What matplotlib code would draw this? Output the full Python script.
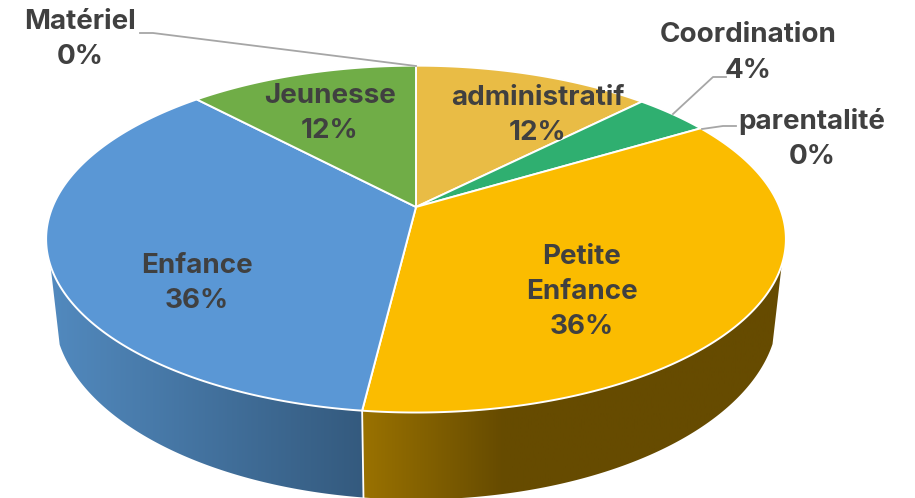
import numpy as np
import matplotlib
matplotlib.use("Agg")
import matplotlib.pyplot as plt
from matplotlib.patches import Polygon
from matplotlib.colors import LinearSegmentedColormap

# Data, clockwise from 12 o'clock
categories = ["administratif", "Coordination", "parentalité", "Petite Enfance",
              "Enfance", "Jeunesse", "Matériel"]
values = [12.4, 4.0, 0.0, 35.53, 36.07, 12.0, 0.0]
colors = ["#E9BC45", "#2FAF70", "#A5A5A5", "#FBBC00", "#5A97D5", "#70AD47", "#888888"]
label_text = ["administratif", "Coordination", "parentalité", "Petite\nEnfance",
              "Enfance", "Jeunesse", "Matériel"]
label_xy = [(538, 115.5), (748, 53), (812, 139), (582, 292), (197, 283.5), (330, 113.5), (80, 39.5)]
leaders = {
    "Matériel": [(140, 33), (153, 33), (416, 66)],
    "Coordination": [(726, 77), (713, 77), (673, 114)],
    "parentalité": [(736, 126), (723, 126), (702, 129)],
}

# Geometry of the perspective view of the disc
CX, CY = 416, 207
A, B, K = 363.5, 167.5, 0.185
SIDE_LIMIT = 265
SX = 0.975
LOW_CY, LOW_RX, LOW_RY = 311.5, 362, 188
TEXT = "#404040"
FONT = "Inter"


def rim(theta):
    X, Y = np.sin(theta), np.cos(theta)
    d = 1 + K * Y
    return CX + A * X / d, CY - B * Y / d


def lower(x):
    xb = CX + (x - CX) * SX
    return xb, LOW_CY + LOW_RY * np.sqrt(1 - ((xb - CX) / LOW_RX) ** 2)


fig = plt.figure(figsize=(9.15, 4.98), dpi=100)
ax = fig.add_axes([0, 0, 1, 1])
ax.set_xlim(0, 915)
ax.set_ylim(498, 0)
ax.axis("off")

fractions = np.array(values) / sum(values)
edges = np.concatenate([[0], np.cumsum(fractions)]) * 2 * np.pi

# Side walls
wall_maps = {
    "Petite Enfance": (LinearSegmentedColormap.from_list("b", ["#9A7200", "#664B00", "#664B00", "#664B00"]), 362, 786),
    "Enfance": (LinearSegmentedColormap.from_list("e", ["#528ABF", "#345A7E"]), 47, 364),
}
for i, cat in enumerate(categories):
    if cat not in wall_maps:
        continue
    th = np.linspace(edges[i], edges[i + 1], 400)
    x, y = rim(th)
    keep = y >= SIDE_LIMIT
    x, y = x[keep], y[keep]
    xb, yb = lower(x)
    poly = Polygon(np.r_[np.c_[x, y], np.c_[xb, yb][::-1]], closed=True,
                   facecolor="none", edgecolor="none", transform=ax.transData)
    ax.add_patch(poly)
    cmap, x0, x1 = wall_maps[cat]
    im = ax.imshow(np.linspace(0, 1, 256)[None, :], cmap=cmap, aspect="auto",
                   extent=(x0, x1, 498, 0), zorder=1)
    im.set_clip_path(poly)
ax.set_xlim(0, 915)
ax.set_ylim(498, 0)

# Seam between the two walls
i_seam = categories.index("Petite Enfance") + 1
sx, sy = rim(edges[i_seam])
sbx, sby = lower(sx)
ax.plot([sx, sbx], [sy, sby], color="white", lw=1.3, zorder=2)

# Top slices
for i, cat in enumerate(categories):
    if values[i] <= 0:
        continue
    th = np.linspace(edges[i], edges[i + 1], 300)
    x, y = rim(th)
    pts = np.r_[[[CX, CY]], np.c_[x, y]]
    ax.add_patch(Polygon(pts, closed=True, facecolor=colors[i], edgecolor="white",
                         lw=1.4, joinstyle="round", zorder=3))

# Leader lines
for name, pts in leaders.items():
    p = np.array(pts)
    ax.plot(p[:, 0], p[:, 1], color="#A6A6A6", lw=1.3, zorder=4)

# Labels
for i, cat in enumerate(categories):
    ax.text(label_xy[i][0], label_xy[i][1], f"{label_text[i]}\n{values[i]:.0f}%",
            ha="center", va="center", ma="center", color=TEXT, family=FONT,
            fontweight="bold", fontsize=20, linespacing=1.46, zorder=5)

fig.savefig("out.png", dpi=100, facecolor="white")
